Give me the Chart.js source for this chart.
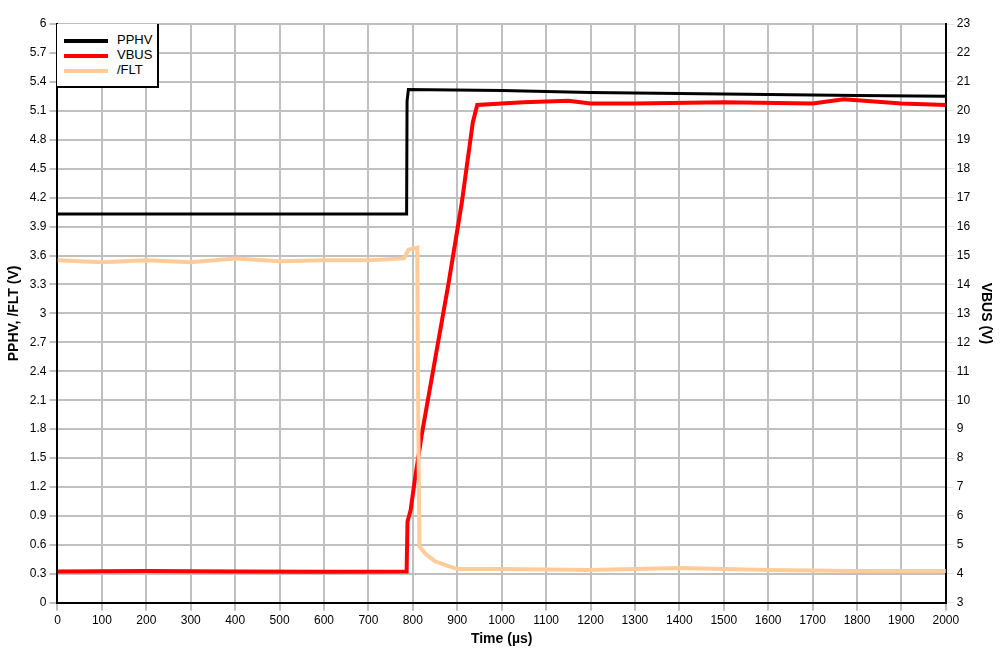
<!DOCTYPE html>
<html lang="en">
<head>
<meta charset="UTF-8">
<title>PPHV / VBUS / FLT</title>
<style>
    body { margin: 0; background: #fff; font-family: Arial, "Liberation Sans", sans-serif; }
    #wrap { position: relative; width: 1006px; height: 652px; }
    #legend {
        position: absolute; left: 57px; top: 24px; width: 102px; height: 64px;
        border: 2px solid #000; border-top: none; border-left: none; background: #fff;
        font-size: 13px; box-sizing: border-box; padding-top: 8px; white-space: nowrap;
    }
    #legend div { height: 15px; line-height: 15px; }
    #legend span { display: inline-block; width: 44px; height: 4px; margin: 0 9px 0 7px; vertical-align: middle; }
</style>
</head>
<body>
<div id="wrap">
    <canvas id="c" width="1006" height="652"></canvas>
    <div id="legend">
        <div><span style="background:#000"></span>PPHV</div>
        <div><span style="background:#ff0000"></span>VBUS</div>
        <div><span style="background:#ffcc99"></span>/FLT</div>
    </div>
</div>
<script src="https://cdn.jsdelivr.net/npm/chart.js"></script>
<script>
// time in µs
const pphvTime = [0, 200, 400, 600, 786, 787, 790, 1000, 1200, 1400, 1600, 1800, 2000];
const pphvVolts = [4.03, 4.03, 4.03, 4.03, 4.03, 5.2, 5.32, 5.31, 5.29, 5.28, 5.27, 5.26, 5.25];

// VBUS on the right axis
const vbusTime = [0, 200, 400, 600, 786, 788, 795, 805, 820, 850, 880, 910, 935, 945, 1000, 1050, 1150, 1200, 1300, 1500, 1700, 1770, 1900, 2000];
const vbusVolts = [4.08, 4.1, 4.08, 4.07, 4.08, 5.8, 6.2, 7.3, 8.8, 11.4, 14.0, 16.8, 19.6, 20.2, 20.25, 20.3, 20.35, 20.25, 20.25, 20.3, 20.25, 20.4, 20.25, 20.2];

const fltTime = [0, 100, 200, 300, 400, 500, 600, 700, 780, 790, 810, 812, 815, 830, 850, 880, 900, 1000, 1200, 1400, 1600, 1800, 2000];
const fltVolts = [3.55, 3.53, 3.55, 3.53, 3.57, 3.54, 3.55, 3.55, 3.57, 3.66, 3.68, 2.0, 0.58, 0.5, 0.43, 0.38, 0.35, 0.35, 0.34, 0.36, 0.34, 0.33, 0.33];

const leftTicks = [0, 0.3, 0.6, 0.9, 1.2, 1.5, 1.8, 2.1, 2.4, 2.7, 3, 3.3, 3.6, 3.9, 4.2, 4.5, 4.8, 5.1, 5.4, 5.7, 6];

const pts = (xs, ys) => xs.map((x, i) => ({ x: x, y: ys[i] }));
const tickFont = { family: 'Arial', size: 12 };
const titleFont = { family: 'Arial', size: 14, weight: 'bold' };

new Chart(document.getElementById('c'), {
    type: 'line',
    data: {
        datasets: [
            { label: '/FLT', data: pts(fltTime, fltVolts), borderColor: '#ffcc99', borderWidth: 4, yAxisID: 'y' },
            { label: 'VBUS', data: pts(vbusTime, vbusVolts), borderColor: '#ff0000', borderWidth: 4, yAxisID: 'y1' },
            { label: 'PPHV', data: pts(pphvTime, pphvVolts), borderColor: '#000000', borderWidth: 3, yAxisID: 'y' }
        ]
    },
    options: {
        responsive: false,
        animation: false,
        elements: { point: { radius: 0 }, line: { tension: 0 } },
        layout: { padding: { top: 24, right: 8, left: 2, bottom: 4 } },
        plugins: { legend: { display: false }, tooltip: { enabled: false } },
        scales: {
            x: {
                type: 'linear', min: 0, max: 2000,
                ticks: { stepSize: 100, color: '#000', font: tickFont, maxRotation: 0, callback: v => String(v) },
                grid: { color: '#c0c0c0', lineWidth: 2 },
                border: { color: '#000', width: 2 },
                title: { display: true, text: 'Time (µs)', color: '#000', font: titleFont, padding: 0 }
            },
            y: {
                position: 'left', min: 0, max: 6,
                afterBuildTicks: axis => { axis.ticks = leftTicks.map(v => ({ value: v })); },
                ticks: { color: '#000', font: tickFont, callback: v => String(Math.round(v * 10) / 10) },
                grid: { color: '#c0c0c0', lineWidth: 2 },
                border: { color: '#000', width: 2 },
                title: { display: true, text: 'PPHV, /FLT (V)', color: '#000', font: titleFont }
            },
            y1: {
                position: 'right', min: 3, max: 23,
                ticks: { stepSize: 1, color: '#000', font: tickFont },
                grid: { drawOnChartArea: false },
                border: { color: '#000', width: 2 },
                title: { display: true, text: 'VBUS (V)', color: '#000', font: titleFont }
            }
        }
    }
});
</script>
</body>
</html>
